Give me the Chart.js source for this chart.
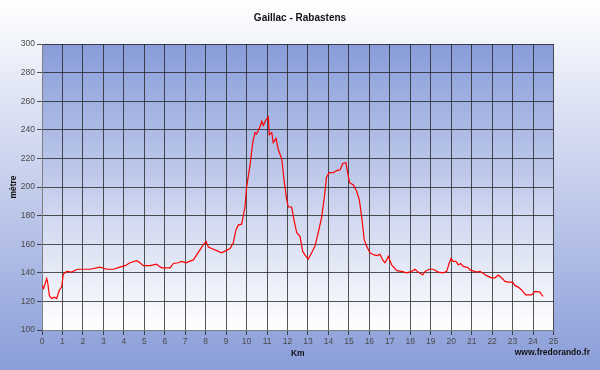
<!DOCTYPE html>
<html>
<head>
<meta charset="utf-8">
<title>Gaillac - Rabastens</title>
<script src="https://cdn.jsdelivr.net/npm/chart.js@4/dist/chart.umd.min.js"></script>
<style>
  body { margin: 0; background: #fff; }
  #wrap { width: 600px; height: 370px; }
</style>
</head>
<body>
<div id="wrap"><canvas id="profil" width="600" height="370"></canvas></div>
<script>
const km = [
  0.00, 0.08, 0.23, 0.28, 0.36, 0.47, 0.60, 0.72, 0.85, 0.96,
  1.04, 1.21, 1.45, 1.73, 2.35, 2.83, 3.16, 3.49, 3.81, 4.06,
  4.30, 4.63, 4.79, 4.95, 5.28, 5.60, 5.69, 5.85, 6.26, 6.42,
  6.66, 6.82, 7.04, 7.20, 7.40, 7.56, 7.72, 7.88, 8.02, 8.13,
  8.29, 8.54, 8.78, 8.99, 9.19, 9.35, 9.48, 9.60, 9.76, 9.92,
  10.00, 10.17, 10.30, 10.41, 10.49, 10.65, 10.74, 10.82, 10.93, 11.06,
  11.11, 11.23, 11.30, 11.44, 11.55, 11.72, 11.83, 11.96, 12.04, 12.20,
  12.33, 12.45, 12.61, 12.74, 12.85, 13.01, 13.18, 13.34, 13.50, 13.67,
  13.80, 13.91, 14.04, 14.24, 14.40, 14.57, 14.70, 14.85, 14.93, 15.03,
  15.22, 15.38, 15.51, 15.62, 15.75, 15.87, 16.03, 16.23, 16.39, 16.52,
  16.65, 16.76, 16.85, 16.93, 17.09, 17.34, 17.58, 17.82, 18.07, 18.23,
  18.39, 18.61, 18.72, 18.93, 19.12, 19.37, 19.61, 19.78, 19.91, 19.99,
  20.10, 20.23, 20.35, 20.46, 20.59, 20.83, 20.92, 21.25, 21.41, 21.73,
  21.98, 22.14, 22.30, 22.46, 22.63, 22.79, 23.00, 23.12, 23.28, 23.44,
  23.64, 23.93, 24.10, 24.34, 24.42, 24.50
];
const altitude = [
  131, 129, 136, 133, 124, 122, 123, 122, 128, 130,
  139, 141, 140.5, 142.5, 142.5, 144, 142.5, 142.5, 144, 145,
  147, 148.5, 147, 145, 145, 146, 145, 143.5, 143.5, 146.5,
  147, 148, 147, 148, 149, 152.5, 156, 159.5, 162, 158,
  157, 155.5, 154, 155.5, 157, 161, 170, 173.5, 174, 186,
  200, 215.5, 231, 238, 237, 242, 246, 243, 246.5, 249,
  236.5, 238, 231, 234, 226, 219.5, 205, 191, 186, 186,
  176, 168, 165.5, 155, 152.5, 149.5, 154, 158.5, 168, 179,
  193, 207, 210, 210, 211.5, 212, 216.5, 217, 211, 203,
  201.5, 197, 191, 179.5, 163, 158.5, 154, 152.5, 152, 153,
  149, 147, 149, 151.5, 145.5, 141.5, 141, 140, 141, 142.5,
  140.5, 138.5, 141, 142.5, 142.5, 140.5, 140, 141, 147, 150,
  148, 148, 145.5, 146.5, 144.5, 143.5, 142, 140.5, 141, 138,
  136.5, 136.5, 138.5, 136.5, 134, 133.5, 133.5, 131, 130, 128,
  124.5, 124.5, 127, 126.5, 124.5, 123.5
];

const police = "'Liberation Sans', Arial, sans-serif";

// fonds en dégradé (page + zone du graphique) et signature du site
const fondPlugin = {
  id: 'fond',
  beforeDraw(chart) {
    const { ctx, width, height, chartArea: a } = chart;
    ctx.save();
    let g = ctx.createLinearGradient(0, 0, 0, height);
    g.addColorStop(0, '#ffffff');
    g.addColorStop(1, '#8a9dd9');
    ctx.fillStyle = g;
    ctx.fillRect(0, 0, width, height);
    g = ctx.createLinearGradient(0, a.top, 0, a.bottom);
    g.addColorStop(0, '#889cd9');
    g.addColorStop(1, '#ffffff');
    ctx.fillStyle = g;
    ctx.fillRect(a.left, a.top, a.right - a.left, a.bottom - a.top);
    ctx.restore();
  },
  afterDraw(chart) {
    const ctx = chart.ctx;
    ctx.save();
    ctx.font = "bold 8.5px " + police;
    ctx.fillStyle = '#111';
    ctx.textAlign = 'right';
    ctx.textBaseline = 'middle';
    ctx.fillText('www.fredorando.fr', 590, 353);
    ctx.restore();
  }
};

new Chart(document.getElementById('profil'), {
  type: 'line',
  data: {
    datasets: [{
      data: km.map((k, i) => ({ x: k, y: altitude[i] })),
      borderColor: '#ff0000',
      borderWidth: 1.2,
      pointRadius: 0,
      tension: 0,
      fill: false
    }]
  },
  options: {
    responsive: false,
    animation: false,
    layout: { padding: { left: 0, right: 0, top: 0, bottom: 11 } },
    plugins: {
      legend: { display: false },
      tooltip: { enabled: false },
      title: {
        display: true,
        text: 'Gaillac - Rabastens',
        color: '#111',
        font: { family: police, size: 10, weight: 'bold' },
        padding: { top: 12, bottom: 20 }
      }
    },
    scales: {
      x: {
        type: 'linear',
        min: 0,
        max: 25,
        afterFit: (s) => { s.height = 29; },
        ticks: {
          stepSize: 1,
          color: '#4a4a4a',
          padding: 2,
          maxRotation: 0,
          font: { family: police, size: 8.5 }
        },
        grid: { color: 'rgba(30,30,30,0.75)', tickLength: 5 },
        border: { color: '#7f7f7f' },
        title: {
          display: true,
          text: 'Km',
          color: '#111',
          padding: 0,
          font: { family: police, size: 8.5, weight: 'bold' }
        }
      },
      y: {
        min: 100,
        max: 300,
        afterFit: (s) => { s.width = 42; },
        ticks: {
          stepSize: 20,
          color: '#4a4a4a',
          padding: 2,
          font: { family: police, size: 8.5 }
        },
        grid: { color: 'rgba(30,30,30,0.75)', tickLength: 5 },
        border: { color: '#7f7f7f' },
        title: {
          display: true,
          text: 'mètre',
          color: '#111',
          padding: { top: 9, bottom: 0 },
          font: { family: police, size: 8.5, weight: 'bold' }
        }
      },
      // axe vide à droite : réserve la marge sans rien dessiner
      marge: {
        position: 'right',
        min: 100,
        max: 300,
        afterFit: (s) => { s.width = 46.5; },
        ticks: { display: false },
        grid: { display: false },
        border: { display: false }
      }
    }
  },
  plugins: [fondPlugin]
});
</script>
</body>
</html>
